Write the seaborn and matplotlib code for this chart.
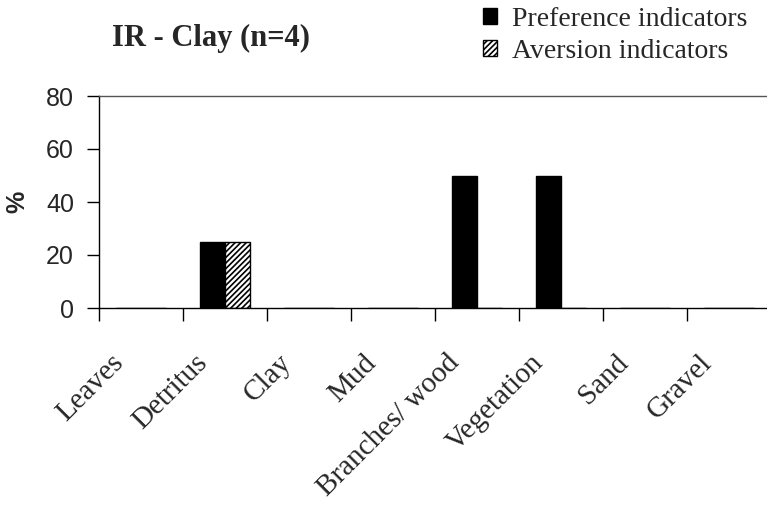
import seaborn as sns
import matplotlib.pyplot as plt
import matplotlib.transforms as mtransforms
from matplotlib.patches import Patch
import pandas as pd

# data
categories = ["Leaves", "Detritus", "Clay", "Mud", "Branches/ wood", "Vegetation", "Sand", "Gravel"]
preference = [0, 25, 0, 0, 50, 50, 0, 0]
aversion = [0, 25, 0, 0, 0, 0, 0, 0]
series_names = ["Preference indicators", "Aversion indicators"]

df = pd.DataFrame({
    "category": categories * 2,
    "type": [series_names[0]] * len(categories) + [series_names[1]] * len(categories),
    "value": preference + aversion,
})

sns.set_style("white")
plt.rcParams["hatch.linewidth"] = 1.2
serif = ["Liberation Serif", "DejaVu Serif"]
sans = ["Liberation Sans", "DejaVu Sans"]

fig = plt.figure(figsize=(7.67, 5.08), dpi=100)
ax = fig.add_axes([99 / 767, 1 - 308 / 508, 672 / 767, 212 / 508])

sns.barplot(data=df, x="category", y="value", hue="type", order=categories,
            hue_order=series_names, palette=["black", "black"], width=0.6,
            edgecolor="black", linewidth=1, legend=False, ax=ax)

# aversion bars hatched
for bar in ax.containers[1]:
    bar.set_facecolor("white")
    bar.set_hatch("//////")
    bar.set_edgecolor("black")

ax.set_ylim(0, 80)
ax.set_xlim(-0.5, len(categories) - 0.5)
ax.set_yticks([0, 20, 40, 60, 80])
ax.tick_params(axis="y", direction="out", length=9, width=1, color="black",
               labelsize=18, pad=9, left=True)
for t in ax.get_yticklabels():
    t.set_family(sans)

# category boundary ticks
ax.set_xticks([i - 0.5 for i in range(len(categories))], minor=True)
ax.tick_params(axis="x", which="minor", direction="out", length=9, width=1, color="black", bottom=True)
ax.tick_params(axis="x", which="major", length=0, pad=30)
ax.set_xticks(range(len(categories)))
ax.set_xticklabels(categories, rotation=45, ha="right", va="top", fontsize=21, family=serif)
offset = mtransforms.ScaledTranslation(-12 / 100, 0, fig.dpi_scale_trans)
for t in ax.get_xticklabels():
    t.set_transform(t.get_transform() + offset)

for side in ["left", "bottom", "top"]:
    ax.spines[side].set_visible(True)
    ax.spines[side].set_color("black")
    ax.spines[side].set_linewidth(1)
ax.spines["top"].set_color("#555555")
ax.spines["right"].set_visible(False)

ax.set_xlabel("")
ax.set_ylabel("%", fontsize=18, fontweight="bold", family=sans, labelpad=12)

fig.text(112 / 767, 1 - 38 / 508, "IR - Clay (n=4)", fontsize=22, fontweight="bold",
         family=serif, ha="left", va="center")

handles = [Patch(facecolor="black", edgecolor="black"),
           Patch(facecolor="white", edgecolor="black", hatch="//////")]
fig.legend(handles, series_names, loc="upper left", bbox_to_anchor=(480 / 767, 1 - 4 / 508),
           frameon=False, prop={"family": serif, "size": 20}, handlelength=0.5,
           handleheight=0.5, handletextpad=0.55, labelspacing=0.25, borderaxespad=0,
           borderpad=0.1)

fig.savefig("out.png", dpi=100)
